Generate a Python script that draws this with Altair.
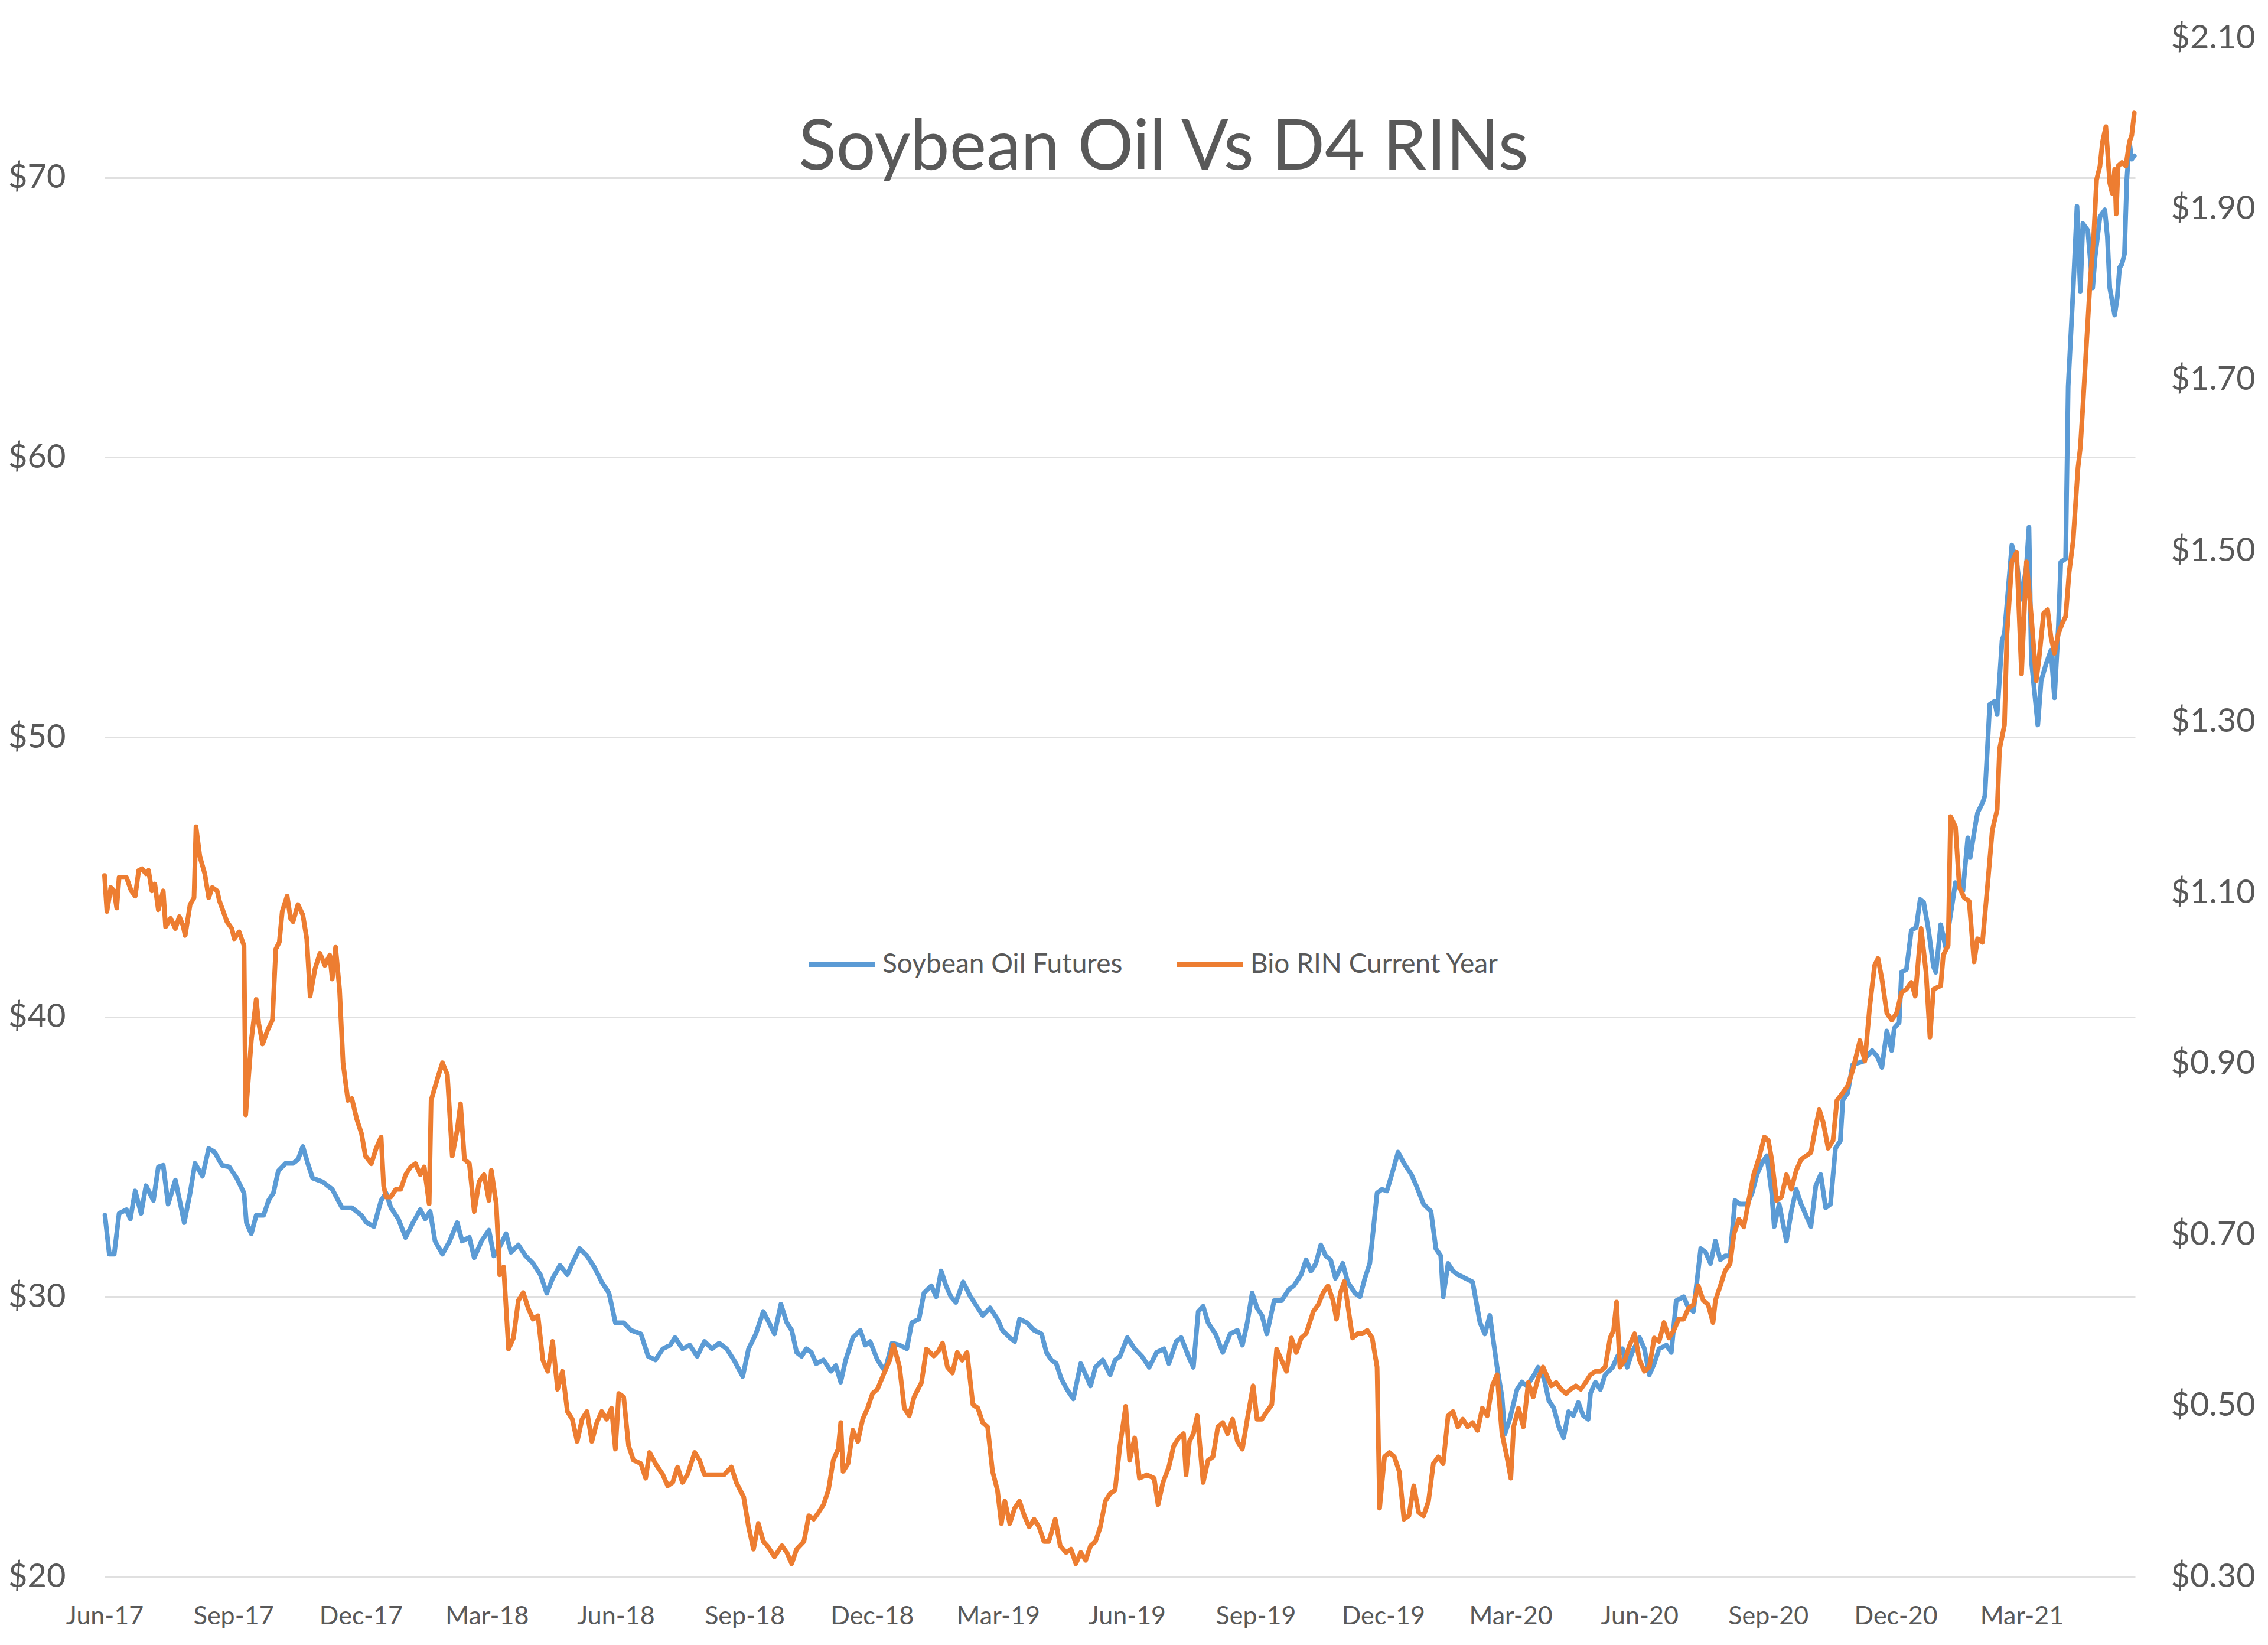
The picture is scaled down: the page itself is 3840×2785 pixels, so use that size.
import altair as alt
import pandas as pd

# ---------------- data ----------------
START = "2017-06-01"   # day 0 of the day offsets below

# Soybean Oil Futures (left axis, $) : day offset from START, value
soy_day = [0.3, 3.4, 6.9, 10.4, 15.6, 18.4, 21.9, 26.1, 29.6, 34.9, 38.4, 41.9, 45.4, 50.6, 56.9, 61.1,
           64.6, 69.9, 74.4, 78.6, 83.9, 89.1, 94.4, 99.6, 101.3, 104.8, 108.3, 113.6, 117.1, 120.6, 124.1,
           129.3, 134.6, 138.1, 141.6, 145.1, 148.6, 155.6, 162.6, 169.6, 176.6, 183.5, 187.1, 192.3, 197.5,
           201.0, 204.5, 209.8, 215.0, 220.3, 225.5, 229.0, 232.5, 236.0, 241.3, 246.5, 251.8, 255.3, 260.5,
           264.0, 269.2, 274.5, 278.0, 281.5, 286.7, 290.2, 295.5, 300.7, 306.0, 311.2, 315.8, 320.0, 325.2,
           330.5, 334.0, 339.2, 344.5, 349.7, 355.0, 360.2, 364.8, 370.7, 376.0, 383.0, 388.2, 393.4, 398.7,
           403.9, 407.4, 412.7, 417.9, 423.2, 428.4, 433.7, 438.9, 444.2, 449.4, 455.7, 459.9, 465.1, 470.4,
           473.2, 478.4, 483.0, 487.2, 490.7, 494.2, 497.7, 501.2, 504.7, 508.2, 513.4, 518.7, 522.2, 525.7,
           529.2, 534.4, 539.7, 543.2, 546.7, 551.9, 557.2, 562.4, 567.7, 572.9, 576.4, 581.6, 585.1, 590.4,
           593.9, 597.4, 600.9, 604.4, 607.9, 613.1, 618.4, 623.6, 627.1, 632.4, 637.6, 641.1, 646.4, 649.9,
           653.4, 658.6, 663.8, 669.1, 672.6, 676.1, 679.6, 683.1, 687.3, 691.8, 697.1, 700.6, 704.1, 707.6,
           712.8, 718.1, 721.6, 725.1, 730.3, 735.6, 740.8, 746.0, 751.3, 756.5, 760.0, 765.3, 768.8, 774.0,
           777.5, 781.0, 784.5, 788.0, 793.3, 798.5, 803.8, 809.0, 812.5, 816.0, 819.5, 823.0, 826.5, 830.0,
           835.2, 840.5, 845.7, 849.2, 854.5, 858.0, 861.5, 865.0, 868.5, 872.0, 875.5, 879.0, 884.2, 887.7,
           893.0, 896.5, 900.0, 903.5, 908.7, 912.2, 915.7, 919.2, 923.7, 927.9, 933.2, 936.7, 941.9, 947.2,
           950.7, 954.2, 955.9, 959.4, 962.9, 966.4, 971.7, 976.9, 982.2, 985.7, 989.2, 994.4, 997.9, 999.9,
           1003.4, 1008.6, 1012.1, 1015.6, 1020.9, 1023.7, 1027.9, 1031.4, 1034.9, 1038.4, 1041.9, 1045.4,
           1048.9, 1052.4, 1055.9, 1059.4, 1061.1, 1064.6, 1068.1, 1071.6, 1076.9, 1080.4, 1083.9, 1087.3,
           1090.8, 1096.1, 1099.6, 1103.1, 1106.6, 1110.1, 1115.3, 1118.8, 1122.3, 1127.6, 1131.1, 1134.6,
           1139.8, 1143.3, 1146.8, 1150.3, 1153.8, 1157.3, 1160.8, 1164.3, 1167.8, 1173.0, 1176.5, 1180.0,
           1183.5, 1187.0, 1190.5, 1192.3, 1195.8, 1201.0, 1204.5, 1208.0, 1211.5, 1215.0, 1218.5, 1222.0,
           1225.5, 1229.0, 1232.5, 1236.0, 1239.5, 1241.3, 1244.8, 1248.3, 1255.3, 1262.2, 1265.7, 1269.2,
           1272.7, 1276.2, 1278.0, 1281.5, 1283.2, 1286.7, 1290.2, 1293.7, 1296.5, 1299.0, 1302.5, 1306.0,
           1307.7, 1311.2, 1314.7, 1321.7, 1327.0, 1330.5, 1332.2, 1335.7, 1337.5, 1341.0, 1342.7, 1346.2,
           1349.7, 1351.5, 1355.0, 1356.7, 1362.0, 1365.4, 1368.9, 1372.4, 1374.2, 1375.9, 1380.5, 1382.9,
           1386.4, 1389.9, 1392.4, 1395.2, 1396.9, 1400.4, 1402.2, 1405.7, 1408.5, 1410.9, 1412.7, 1416.2,
           1419.7, 1421.4, 1424.9, 1428.4, 1430.2, 1431.9, 1435.4, 1437.2, 1438.9, 1440.6, 1442.4, 1444.1,
           1445.9, 1447.6, 1449.4]
soy_val = [32.91, 31.52, 31.52, 32.98, 33.11, 32.78, 33.78, 32.98, 33.97, 33.44, 34.64, 34.70, 33.31, 34.17,
           32.65, 33.71, 34.77, 34.31, 35.30, 35.17, 34.70, 34.64, 34.24, 33.71, 32.65, 32.25, 32.91, 32.91,
           33.44, 33.71, 34.50, 34.77, 34.77, 34.90, 35.37, 34.77, 34.24, 34.11, 33.84, 33.18, 33.18, 32.91,
           32.65, 32.51, 33.44, 33.71, 33.18, 32.78, 32.12, 32.65, 33.11, 32.78, 33.05, 31.99, 31.52, 31.99,
           32.65, 31.99, 32.12, 31.39, 31.99, 32.38, 31.46, 31.72, 32.25, 31.59, 31.85, 31.46, 31.19, 30.79,
           30.13, 30.66, 31.12, 30.79, 31.19, 31.72, 31.46, 31.06, 30.53, 30.13, 29.07, 29.07, 28.80, 28.67,
           27.87, 27.74, 28.14, 28.27, 28.54, 28.14, 28.27, 27.87, 28.40, 28.14, 28.34, 28.14, 27.74, 27.15,
           28.14, 28.67, 29.47, 29.20, 28.67, 29.73, 29.07, 28.80, 28.01, 27.87, 28.14, 28.01, 27.61, 27.74,
           27.34, 27.54, 26.95, 27.74, 28.54, 28.80, 28.27, 28.40, 27.74, 27.34, 28.34, 28.27, 28.14, 29.07,
           29.20, 30.13, 30.39, 30.00, 30.92, 30.39, 30.00, 29.80, 30.53, 30.00, 29.60, 29.33, 29.60, 29.20,
           28.80, 28.54, 28.40, 29.20, 29.07, 28.80, 28.67, 28.01, 27.74, 27.61, 27.08, 26.68, 26.35, 27.61,
           27.21, 26.81, 27.48, 27.74, 27.21, 27.74, 27.87, 28.54, 28.14, 27.87, 27.48, 28.01, 28.14, 27.61,
           28.40, 28.54, 27.87, 27.48, 29.47, 29.66, 29.07, 28.67, 28.01, 28.67, 28.80, 28.27, 29.07, 30.13,
           29.60, 29.33, 28.67, 29.86, 29.86, 30.26, 30.39, 30.79, 31.32, 30.92, 31.19, 31.85, 31.46, 31.32,
           30.66, 31.19, 30.53, 30.13, 30.00, 30.66, 31.19, 33.71, 33.84, 33.78, 34.37, 35.17, 34.77, 34.37,
           33.97, 33.31, 33.05, 31.72, 31.46, 30.00, 31.19, 30.92, 30.79, 30.66, 30.53, 29.07, 28.67, 29.33,
           27.48, 26.42, 25.09, 25.62, 26.68, 26.95, 26.81, 27.21, 27.48, 27.08, 26.28, 26.02, 25.36, 24.96,
           25.89, 25.75, 26.22, 25.75, 25.62, 26.55, 26.95, 26.68, 27.21, 27.48, 27.87, 28.14, 27.48, 28.01,
           28.54, 28.14, 27.21, 27.61, 28.14, 28.27, 28.01, 29.86, 30.00, 29.60, 29.47, 31.72, 31.59, 31.19,
           31.99, 31.32, 31.46, 31.46, 33.44, 33.31, 33.31, 33.71, 34.37, 34.77, 35.04, 33.71, 32.51, 33.31,
           31.99, 33.05, 33.84, 33.31, 32.91, 32.51, 33.97, 34.37, 33.18, 33.31, 35.30, 35.57, 37.02, 37.29,
           38.30, 38.40, 38.80, 38.60, 38.20, 39.50, 38.80, 39.60, 39.80, 41.60, 41.70, 43.10, 43.20, 44.20,
           44.10, 43.10, 41.80, 41.60, 43.30, 42.50, 44.80, 44.50, 46.40, 45.70, 46.80, 47.30, 47.65, 47.90,
           51.17, 51.29, 50.81, 53.47, 53.71, 56.87, 56.26, 54.93, 56.14, 57.50, 52.74, 50.44, 52.02, 52.62,
           53.11, 51.41, 53.96, 56.26, 56.38, 62.54, 65.94, 68.97, 65.94, 68.36, 68.12, 66.06, 67.15, 68.60,
           68.85, 67.88, 66.06, 65.09, 65.69, 66.79, 66.91, 67.27, 69.94, 71.27, 70.66, 70.78]

# Bio RIN Current Year (right axis, $) : day offset from START, value
rin_day = [0.0, 1.7, 4.5, 6.9, 8.7, 10.4, 15.6, 19.1, 21.9, 24.4, 26.8, 29.6, 31.4, 33.8, 35.9, 38.4, 41.9,
           43.6, 47.1, 50.6, 53.4, 55.9, 57.6, 61.1, 63.9, 65.3, 68.1, 71.6, 74.4, 76.9, 80.4, 82.1, 87.4,
           90.9, 92.6, 96.1, 99.6, 100.8, 104.8, 108.3, 110.1, 112.9, 116.4, 119.9, 122.3, 124.8, 126.9,
           130.4, 132.8, 134.6, 138.1, 141.6, 144.4, 146.8, 150.3, 153.8, 157.3, 160.8, 162.6, 165.0, 167.8,
           170.3, 173.8, 176.6, 180.1, 183.5, 186.3, 190.5, 194.0, 197.5, 199.3, 201.0, 204.5, 208.0, 211.5,
           215.0, 218.5, 222.0, 225.5, 228.3, 231.8, 233.2, 237.8, 241.3, 244.8, 248.3, 251.8, 254.2, 257.0,
           260.5, 264.0, 267.5, 271.0, 274.5, 276.2, 279.7, 282.2, 285.0, 288.5, 292.0, 295.5, 299.0, 302.5,
           306.0, 309.5, 313.0, 316.5, 320.0, 323.5, 327.0, 330.5, 334.0, 337.5, 341.0, 344.5, 348.0, 351.5,
           355.0, 358.5, 362.0, 364.8, 367.2, 370.7, 374.2, 377.7, 383.0, 386.4, 389.2, 393.4, 398.7, 402.2,
           405.7, 409.2, 412.7, 416.2, 421.4, 424.9, 428.4, 435.4, 442.4, 447.6, 451.1, 456.4, 459.9, 463.4,
           466.9, 470.4, 473.2, 478.4, 483.7, 487.2, 490.7, 494.2, 499.4, 502.9, 506.4, 509.9, 513.4, 516.9,
           520.4, 523.9, 525.7, 527.4, 530.9, 534.4, 537.9, 541.4, 544.9, 548.4, 551.9, 557.2, 560.7, 563.4,
           567.7, 571.1, 574.6, 578.1, 583.4, 586.9, 592.1, 595.6, 598.4, 601.9, 605.4, 608.9, 612.4, 615.9,
           620.1, 623.6, 627.1, 630.6, 634.1, 637.6, 640.4, 642.9, 646.4, 649.9, 653.4, 656.8, 660.3, 663.8,
           667.3, 670.8, 674.3, 678.9, 682.4, 686.6, 690.1, 693.6, 697.1, 700.6, 704.1, 707.6, 711.1, 714.6,
           718.1, 721.6, 725.1, 729.2, 732.0, 735.6, 739.0, 744.3, 749.5, 752.3, 755.8, 760.0, 763.5, 767.0,
           770.5, 772.3, 774.7, 777.5, 780.3, 784.5, 788.0, 791.5, 795.0, 798.5, 802.0, 805.5, 809.0, 812.5,
           816.0, 820.2, 823.0, 826.5, 830.0, 833.5, 837.0, 840.5, 844.0, 847.5, 851.0, 854.5, 858.0, 863.2,
           866.7, 870.2, 873.7, 877.2, 879.7, 882.5, 885.3, 887.7, 891.2, 894.7, 898.2, 901.7, 905.2, 908.7,
           910.5, 914.0, 917.5, 921.0, 924.5, 927.9, 931.4, 934.9, 938.4, 941.9, 945.4, 948.9, 952.4, 955.9,
           959.4, 962.9, 966.4, 969.9, 973.4, 976.9, 980.4, 983.9, 987.4, 990.9, 994.4, 997.9, 1001.4, 1004.2,
           1006.2, 1009.7, 1013.2, 1016.7, 1020.2, 1023.7, 1027.2, 1029.6, 1033.1, 1036.6, 1040.1, 1043.6,
           1047.1, 1050.6, 1054.1, 1057.6, 1061.1, 1064.6, 1068.1, 1071.6, 1075.1, 1077.6, 1079.7, 1082.1,
           1085.6, 1089.1, 1092.6, 1096.1, 1099.6, 1103.1, 1106.6, 1110.1, 1113.6, 1117.1, 1120.6, 1124.1,
           1127.6, 1131.1, 1134.6, 1138.1, 1141.6, 1145.1, 1148.6, 1150.3, 1153.8, 1157.3, 1160.8, 1163.6,
           1167.1, 1170.6, 1174.1, 1177.6, 1181.1, 1185.3, 1188.1, 1190.5, 1194.0, 1197.5, 1201.0, 1204.5,
           1208.0, 1211.5, 1215.0, 1218.5, 1222.0, 1224.5, 1227.3, 1230.8, 1234.3, 1237.1, 1241.3, 1244.8,
           1248.3, 1253.5, 1257.0, 1260.5, 1264.0, 1266.4, 1269.2, 1272.7, 1276.2, 1279.7, 1283.2, 1286.7,
           1290.2, 1293.0, 1295.5, 1297.2, 1300.7, 1303.5, 1306.0, 1311.2, 1313.0, 1316.5, 1318.2, 1321.7,
           1324.5, 1328.0, 1331.5, 1335.0, 1337.5, 1341.0, 1344.5, 1348.0, 1351.5, 1353.2, 1356.7, 1358.5,
           1362.0, 1365.4, 1368.9, 1372.4, 1375.9, 1379.4, 1381.2, 1384.7, 1387.5, 1389.9, 1392.4, 1395.2,
           1398.0, 1400.4, 1402.9, 1405.7, 1409.2, 1410.9, 1412.7, 1415.5, 1417.9, 1420.4, 1422.5, 1424.9,
           1426.7, 1429.1, 1431.9, 1433.7, 1435.4, 1436.5, 1437.9, 1440.6, 1443.4, 1445.9, 1447.6, 1449.4]
rin_val = [1.120, 1.078, 1.106, 1.102, 1.082, 1.118, 1.118, 1.102, 1.096, 1.126, 1.128, 1.122, 1.126, 1.102,
           1.110, 1.080, 1.102, 1.060, 1.070, 1.058, 1.072, 1.062, 1.050, 1.086, 1.094, 1.177, 1.142, 1.122,
           1.094, 1.106, 1.102, 1.090, 1.066, 1.058, 1.046, 1.054, 1.038, 0.840, 0.927, 0.975, 0.947, 0.923,
           0.939, 0.951, 1.034, 1.042, 1.078, 1.096, 1.070, 1.066, 1.086, 1.074, 1.046, 0.979, 1.011, 1.029,
           1.015, 1.027, 0.999, 1.036, 0.987, 0.901, 0.857, 0.859, 0.835, 0.818, 0.792, 0.783, 0.801, 0.814,
           0.757, 0.744, 0.744, 0.753, 0.753, 0.770, 0.779, 0.783, 0.770, 0.779, 0.736, 0.857, 0.883, 0.901,
           0.887, 0.792, 0.822, 0.853, 0.788, 0.783, 0.727, 0.762, 0.770, 0.740, 0.775, 0.736, 0.653, 0.662,
           0.566, 0.579, 0.623, 0.632, 0.614, 0.601, 0.605, 0.553, 0.540, 0.575, 0.519, 0.540, 0.493, 0.484,
           0.458, 0.484, 0.493, 0.458, 0.480, 0.493, 0.484, 0.497, 0.449, 0.514, 0.510, 0.453, 0.436, 0.432,
           0.415, 0.445, 0.432, 0.419, 0.406, 0.410, 0.428, 0.410, 0.419, 0.445, 0.436, 0.419, 0.419, 0.419,
           0.428, 0.410, 0.393, 0.358, 0.332, 0.362, 0.341, 0.336, 0.323, 0.336, 0.328, 0.315, 0.332, 0.341,
           0.371, 0.367, 0.375, 0.384, 0.401, 0.436, 0.449, 0.480, 0.423, 0.432, 0.471, 0.458, 0.484, 0.497,
           0.514, 0.519, 0.540, 0.553, 0.571, 0.545, 0.497, 0.488, 0.510, 0.527, 0.566, 0.558, 0.564, 0.573,
           0.545, 0.538, 0.562, 0.553, 0.562, 0.501, 0.497, 0.480, 0.475, 0.423, 0.401, 0.362, 0.388, 0.362,
           0.380, 0.388, 0.371, 0.358, 0.367, 0.358, 0.341, 0.341, 0.367, 0.336, 0.328, 0.332, 0.315, 0.328,
           0.319, 0.336, 0.341, 0.358, 0.388, 0.397, 0.401, 0.453, 0.499, 0.436, 0.462, 0.415, 0.419, 0.415,
           0.384, 0.410, 0.428, 0.453, 0.462, 0.467, 0.419, 0.458, 0.467, 0.488, 0.410, 0.436, 0.440, 0.475,
           0.480, 0.467, 0.484, 0.458, 0.449, 0.484, 0.523, 0.484, 0.484, 0.493, 0.501, 0.566, 0.553, 0.540,
           0.579, 0.562, 0.579, 0.584, 0.610, 0.618, 0.632, 0.640, 0.623, 0.601, 0.632, 0.645, 0.618, 0.579,
           0.584, 0.584, 0.588, 0.579, 0.545, 0.380, 0.440, 0.445, 0.440, 0.423, 0.367, 0.371, 0.406, 0.375,
           0.371, 0.388, 0.432, 0.440, 0.432, 0.488, 0.493, 0.475, 0.484, 0.475, 0.480, 0.471, 0.497, 0.488,
           0.523, 0.536, 0.467, 0.440, 0.415, 0.475, 0.497, 0.475, 0.527, 0.510, 0.532, 0.545, 0.536, 0.523,
           0.527, 0.519, 0.514, 0.519, 0.523, 0.519, 0.527, 0.536, 0.540, 0.540, 0.545, 0.579, 0.588, 0.621,
           0.545, 0.553, 0.571, 0.584, 0.553, 0.540, 0.545, 0.579, 0.575, 0.597, 0.579, 0.588, 0.601, 0.601,
           0.614, 0.618, 0.640, 0.623, 0.618, 0.597, 0.623, 0.640, 0.658, 0.666, 0.701, 0.718, 0.709, 0.740,
           0.770, 0.788, 0.814, 0.810, 0.788, 0.740, 0.744, 0.770, 0.753, 0.775, 0.788, 0.792, 0.796, 0.827,
           0.846, 0.831, 0.801, 0.810, 0.857, 0.866, 0.874, 0.892, 0.927, 0.903, 0.967, 1.015, 1.023, 0.999,
           0.959, 0.951, 0.959, 0.983, 0.987, 0.995, 0.979, 1.027, 1.058, 1.007, 0.931, 0.987, 0.991, 1.027,
           1.038, 1.189, 1.177, 1.106, 1.094, 1.090, 1.019, 1.046, 1.042, 1.106, 1.173, 1.197, 1.268, 1.296,
           1.403, 1.487, 1.498, 1.356, 1.487, 1.423, 1.348, 1.371, 1.427, 1.431, 1.399, 1.380, 1.403, 1.415,
           1.423, 1.475, 1.511, 1.597, 1.621, 1.669, 1.748, 1.815, 1.867, 1.934, 1.950, 1.978, 1.996, 1.930,
           1.918, 1.946, 1.894, 1.950, 1.954, 1.950, 1.978, 1.986, 2.012]

series_names = ["Soybean Oil Futures", "Bio RIN Current Year"]
series_colors = ["#5B9BD5", "#ED7D31"]
title_text = "Soybean Oil Vs D4 RINs"

# x tick labels: (year, month) at each quarter
x_tick_ym = [(2017, 6), (2017, 9), (2017, 12), (2018, 3), (2018, 6), (2018, 9), (2018, 12), (2019, 3),
             (2019, 6), (2019, 9), (2019, 12), (2020, 3), (2020, 6), (2020, 9), (2020, 12), (2021, 3)]
x_end = (2021, 5, 21)
left_ticks = [20, 30, 40, 50, 60, 70]
left_domain = [20, 75]
right_ticks = [0.30, 0.50, 0.70, 0.90, 1.10, 1.30, 1.50, 1.70, 1.90, 2.10]
right_domain = [0.30, 2.10]

# ---------------- build tables ----------------
start = pd.Timestamp(START)


def to_iso(days):
    return [(start + pd.Timedelta(days=float(d))).strftime("%Y-%m-%dT%H:%M:%S") for d in days]


soy = pd.DataFrame({"date": to_iso(soy_day), "value": soy_val, "series": series_names[0]})
rin = pd.DataFrame({"date": to_iso(rin_day), "value": rin_val, "series": series_names[1]})

FONT = "Lato"
GRAY = "#595959"
GRID = "#E0E0E0"
W, H = 3438, 2605
LW = 8

x_enc = alt.X(
    "date:T",
    scale=alt.Scale(domain=[alt.DateTime(year=2017, month=6, date=1),
                            alt.DateTime(year=x_end[0], month=x_end[1], date=x_end[2])]),
    axis=alt.Axis(
        values=[alt.DateTime(year=y, month=m, date=1) for y, m in x_tick_ym],
        format="%b-%y", labelFont=FONT, labelFontSize=43, labelColor=GRAY,
        labelPadding=46, labelFlush=False, labelOverlap=False,
        domain=False, ticks=False, grid=False, title=None,
    ),
)

color = alt.Color(
    "series:N",
    scale=alt.Scale(domain=series_names, range=series_colors),
    legend=alt.Legend(
        title=None, orient="none", legendX=1189, legendY=1509, direction="horizontal",
        symbolType="stroke", symbolSize=12544, symbolStrokeWidth=LW,
        labelFont=FONT, labelFontSize=46, labelColor=GRAY, labelOffset=8, labelLimit=0,
        columnPadding=76, padding=0,
    ),
)

soy_line = alt.Chart(soy).mark_line(strokeWidth=LW, strokeJoin="round", strokeCap="round").encode(
    x=x_enc,
    y=alt.Y(
        "value:Q",
        scale=alt.Scale(domain=left_domain, nice=False, zero=False),
        axis=alt.Axis(
            orient="left", values=left_ticks, format="$,.0f",
            labelFont=FONT, labelFontSize=56, labelColor=GRAY, labelPadding=66,
            labelFlush=False, labelOverlap=False,
            grid=True, gridColor=GRID, gridWidth=3, domain=False, ticks=False, title=None,
        ),
    ),
    color=color,
    order=alt.Order("date:T"),
)

rin_line = alt.Chart(rin).mark_line(strokeWidth=LW, strokeJoin="round", strokeCap="round").encode(
    x=x_enc,
    y=alt.Y(
        "value:Q",
        scale=alt.Scale(domain=right_domain, nice=False, zero=False),
        axis=alt.Axis(
            orient="right", values=right_ticks, format="$.2f",
            labelFont=FONT, labelFontSize=56, labelColor=GRAY, labelPadding=60,
            labelFlush=False, labelOverlap=False,
            grid=False, domain=False, ticks=False, title=None,
        ),
    ),
    color=color,
    order=alt.Order("date:T"),
)

title = alt.Chart(pd.DataFrame({"t": [title_text]})).mark_text(
    font=FONT, fontSize=118, color=GRAY, align="center", baseline="alphabetic"
).encode(text="t:N", x=alt.value(1793), y=alt.value(223))

chart = (
    alt.layer(soy_line, rin_line, title)
    .resolve_scale(y="independent")
    .properties(width=W, height=H, padding={"top": 28, "left": 5, "right": 5, "bottom": 5},
                background="white")
    .configure_view(stroke=None)
)

chart.save("out.html", embed_options={"renderer": "svg", "actions": False})
